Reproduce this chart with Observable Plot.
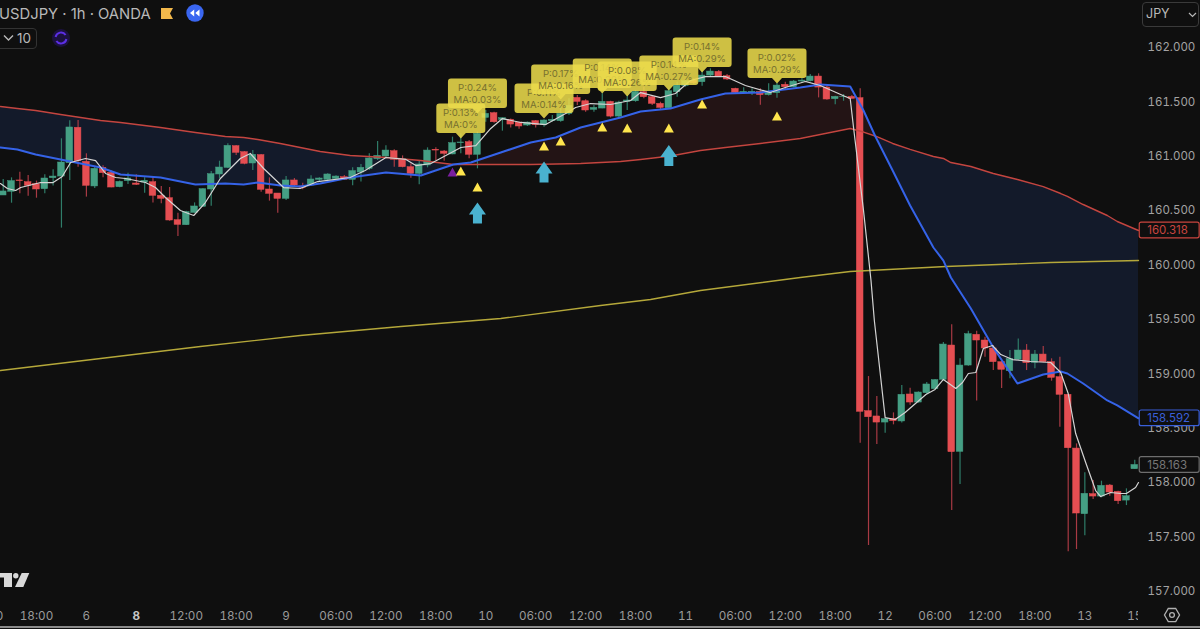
<!DOCTYPE html>
<html>
<head>
<meta charset="utf-8">
<script src="https://cdn.jsdelivr.net/npm/d3@7"></script>
<script src="https://cdn.jsdelivr.net/npm/@observablehq/plot@0.6"></script>
<style>
html,body{margin:0;padding:0;background:#0f0f0f;width:1200px;height:629px;overflow:hidden;font-family:Inter,"Liberation Sans",sans-serif}
#wrap{position:relative;width:1200px;height:629px;overflow:hidden}
.ab{position:absolute}
</style>
</head>
<body>
<div id="wrap"></div>
<script>
// ---- candles (bar 0..136) ----
const opens=[160.640,160.674,160.778,160.762,160.744,160.698,160.799,160.814,160.937,161.262,160.949,160.723,160.894,160.848,160.716,160.772,160.750,160.759,160.762,160.637,160.615,160.413,160.367,160.480,160.536,160.695,160.833,160.894,161.093,161.038,160.934,161.011,160.695,160.658,160.609,160.778,
160.723,160.732,160.784,160.784,160.793,160.808,160.784,160.851,160.885,160.974,160.998,161.047,160.968,160.900,160.839,160.916,161.060,161.044,161.017,161.121,161.130,161.014,
161.353,161.396,161.335,161.335,161.310,161.283,161.323,161.286,161.323,161.323,161.390,161.537,161.506,161.427,161.439,161.500,161.365,161.500,161.506,161.589,161.543,161.482,161.442,161.589,
161.647,161.696,161.681,161.742,161.776,161.736,161.620,161.583,161.583,161.592,161.562,161.580,161.657,161.635,161.687,161.690,161.733,161.632,161.525,161.543,161.546,161.534,
158.658,158.609,158.553,158.587,158.563,158.811,158.737,158.823,158.860,158.946,159.261,158.284,159.077,159.359,159.307,159.234,159.108,159.025,159.132,159.215,159.102,159.178,159.108,158.970,158.808,158.314,157.711,157.895,157.873,157.974,157.916,157.836,158.124];
const closes=[160.677,160.772,160.772,160.729,160.695,160.796,160.814,160.943,161.265,160.955,160.729,160.885,160.845,160.713,160.765,160.796,160.738,160.775,160.637,160.609,160.410,160.370,160.487,160.539,160.698,160.836,160.897,161.096,161.032,160.931,161.014,160.692,160.655,160.609,160.778,160.732,
160.710,160.787,160.796,160.833,160.814,160.784,160.864,160.894,160.980,161.004,161.053,160.968,160.900,160.839,160.925,161.053,161.053,161.023,161.121,161.127,161.014,161.207,
161.390,161.313,161.350,161.292,161.274,161.310,161.286,161.329,161.335,161.390,161.464,161.500,161.421,161.445,161.500,161.365,161.494,161.513,161.592,161.543,161.482,161.445,161.598,161.650,
161.690,161.672,161.742,161.779,161.733,161.706,161.583,161.592,161.592,161.562,161.586,161.650,161.635,161.687,161.696,161.733,161.632,161.522,161.546,161.546,161.528,158.652,
158.602,158.553,158.584,158.566,158.808,158.737,158.829,158.903,158.943,159.270,158.281,159.077,159.365,159.307,159.234,159.108,159.038,159.136,159.215,159.099,159.178,159.108,158.964,158.808,158.317,157.717,157.898,157.873,157.971,157.910,157.830,157.876,158.163];
const highs=[160.787,160.802,160.854,160.824,160.772,160.830,160.876,161.161,161.326,161.329,161.023,160.906,160.913,160.864,160.772,160.845,160.830,160.802,160.808,160.723,160.713,160.477,160.496,160.572,160.701,160.860,160.955,161.115,161.099,161.044,161.053,161.017,160.802,160.658,160.814,160.796,
160.753,160.821,160.802,160.839,160.821,160.824,160.894,160.925,161.023,161.136,161.096,161.060,161.004,160.931,160.962,161.078,161.078,161.053,161.176,161.207,161.145,161.222,
161.421,161.405,161.353,161.344,161.313,161.316,161.329,161.335,161.375,161.497,161.528,161.559,161.519,161.467,161.574,161.506,161.506,161.559,161.604,161.635,161.559,161.497,161.620,161.681,
161.712,161.712,161.788,161.804,161.788,161.752,161.626,161.629,161.620,161.620,161.666,161.672,161.681,161.696,161.718,161.752,161.758,161.641,161.552,161.568,161.559,161.620,
158.976,158.792,158.596,158.642,158.894,158.869,158.835,158.921,158.949,159.289,159.451,159.139,159.393,159.393,159.338,159.258,159.117,159.215,159.322,159.270,159.215,159.252,159.139,159.154,158.811,158.357,158.091,158.020,158.014,157.983,157.922,157.944,158.207];
const lows=[160.640,160.569,160.655,160.634,160.615,160.655,160.726,160.340,160.778,160.900,160.625,160.704,160.802,160.710,160.710,160.741,160.732,160.661,160.572,160.563,160.404,160.263,160.364,160.477,160.533,160.542,160.793,160.888,161.008,160.922,160.870,160.670,160.588,160.477,160.594,160.716,
160.692,160.723,160.762,160.778,160.784,160.778,160.729,160.765,160.870,160.962,160.977,160.900,160.894,160.799,160.738,160.894,160.962,160.955,161.014,161.023,160.977,160.885,
161.313,161.304,161.231,161.261,161.249,161.274,161.261,161.267,161.316,161.313,161.375,161.467,161.405,161.405,161.436,161.353,161.353,161.421,161.497,161.528,161.467,161.421,161.433,161.543,
161.635,161.660,161.644,161.733,161.727,161.696,161.577,161.568,161.559,161.470,161.555,161.534,161.604,161.629,161.681,161.684,161.537,161.516,161.473,161.506,161.528,158.363,
157.423,158.351,158.455,158.532,158.550,158.713,158.731,158.811,158.854,158.939,157.745,157.984,159.071,158.750,159.154,159.031,158.866,158.955,159.123,159.031,159.047,159.102,158.933,158.510,157.365,157.386,157.512,157.846,157.861,157.876,157.800,157.790,158.124];

// ---- moving averages (blue and red share their bars, so the cloud can fill between them) ----
const maBars=[-0.33,1.7,3.9,6.9,11.7,14.1,18.9,23.1,26.7,28.9,30.6,33.3,35.7,38.1,41.7,46,50.2,54.1,56.2,59.8,63.4,66.4,69.4,74.2,76.6,80.2,83.8,86.8,91,95.8,98.2,101.8,103.4,104.8,106.9,109,111.8,113,113.9,116.3,119,121.9,125,127.1,127.9,129.8,132.7,133.9,136.45];
const blueMA=[161.081,161.063,161.017,160.971,160.897,160.833,160.805,160.741,160.750,160.741,160.759,160.732,160.722,160.750,160.805,160.851,160.824,160.925,160.943,161.035,161.127,161.173,161.265,161.357,161.412,161.439,161.522,161.577,161.586,161.632,161.660,161.642,161.421,161.187,160.870,160.548,160.162,160.042,159.886,159.601,159.243,158.912,158.995,159.022,159.004,158.912,158.756,158.710,158.592];
const redMA=[161.458,161.439,161.421,161.384,161.329,161.311,161.265,161.219,161.182,161.173,161.154,161.118,161.081,161.044,161.007,160.989,160.961,160.925,160.925,160.925,160.925,160.929,160.934,160.952,160.971,161.003,161.053,161.081,161.118,161.164,161.200,161.256,161.223,161.187,161.118,161.063,160.998,160.980,160.943,160.906,160.842,160.787,160.722,160.658,160.631,160.557,160.456,160.401,160.318];
const crossA=54.1, crossB=104.8;

const yellowBars=[-0.33,11.7,23.7,35.7,47.8,59.8,71.8,77.8,83.8,95.8,101.8,113.3,125.9,136.45];
const yellowMA=[159.031,159.142,159.252,159.353,159.436,159.509,159.629,159.684,159.767,159.886,159.941,159.987,160.024,160.042];

const whiteBars=[-0.33,0.5,1.5,2.1,4.5,6,7.1,8.1,9.9,11.1,12.3,13.5,14.7,17.1,18.3,19.5,21.3,22.9,24.3,26.1,28.5,29.7,31.3,33.7,35.7,37.8,41.7,43.5,46,48.4,49.6,51.4,53.2,55,56.8,58.6,60,62.2,65.2,67.6,68.8,70.6,73,75.4,76.6,79,80.8,82.6,84.4,86.8,89.2,92.2,94,96.4,98.2,101.2,101.8,102.2,103.4,104.3,104.7,106,107.2,108.4,110.9,112,113,114.5,115.3,116,116.9,117.8,118.9,119.9,121.3,123.5,125.9,127.1,128,128.9,130.1,131.3,131.9,133.1,134.3,135,136.1,136.45];
const whiteMA=[160.750,160.704,160.686,160.713,160.759,160.759,160.814,160.943,160.980,160.961,160.842,160.805,160.796,160.759,160.713,160.621,160.502,160.456,160.575,160.796,160.980,161.026,160.888,160.713,160.704,160.768,160.805,160.870,160.989,160.971,160.915,160.934,161.007,161.081,161.099,161.256,161.347,161.311,161.292,161.393,161.449,161.485,161.476,161.513,161.586,161.540,161.577,161.697,161.733,161.733,161.651,161.586,161.632,161.688,161.651,161.550,161.531,161.265,160.502,159.859,159.491,158.599,158.581,158.645,158.811,158.857,158.949,158.866,158.921,159.004,159.013,159.234,159.261,159.178,159.132,159.114,159.105,159.013,158.820,158.452,158.186,157.928,157.873,157.910,157.901,157.901,157.956,158.002];

// ---- signals ----
const triBars=[55,57,65,67,72,75,80,84,93];
const triPrices=[160.860,160.713,161.090,161.136,161.265,161.256,161.256,161.476,161.366];
const purpleBars=[54];
const purplePrices=[160.851];
const arrowBars=[57,65,80];
const arrowPrices=[160.479,160.856,161.007];

// ---- callouts ----
const tagBars=[55,57,65,67,72,75,80,84,93];
const tagTips=[161.164,161.393,161.347,161.522,161.577,161.550,161.605,161.770,161.669];
const tagP=["0.13","0.24","0.11","0.17","0.14","0.08","0.14","0.14","0.02"];
const tagMA=["0","0.03","0.14","0.16","0.20","0.26","0.27","0.29","0.29"];

// ---- axes ----
const yTicks=[157,157.5,158,158.5,159,159.5,160,160.5,161,161.5,162];
const xTickBars=[-2,4,10,22,28,34,40,46,52,58,64,70,76,82,88,94,100,106,112,118,124,130,136];
const xTickLabels=["12:00","18:00","6","12:00","18:00","9","06:00","12:00","18:00","10","06:00","12:00","18:00","11","06:00","12:00","18:00","12","06:00","12:00","18:00","13","15"];
const boldTickBars=[16];
const boldTickLabels=["8"];

const endValues=[160.318,158.592,158.163];
const endColors=["#c9453f","#3a5fd9","#6e6e6e"];
const endTextColors=["#c9453f","#3a5fd9","#777777"];

const candles=opens.map((o,i)=>({i,open:o,close:closes[i],high:highs[i],low:lows[i]}));
const up=candles.filter(d=>d.close>=d.open), down=candles.filter(d=>d.close<d.open);
const cloud=maBars.map((k,i)=>({k,blue:blueMA[i],red:redMA[i]}));
const zip=(xs,ys)=>xs.map((k,i)=>({k,v:ys[i]}));

const poly=pts=>({draw(c){pts.forEach((p,i)=>i?c.lineTo(p[0],p[1]):c.moveTo(p[0],p[1]));c.closePath();}});
const triSym=poly([[0,-5],[5,4],[-5,4]]);
const arrowSym=poly([[0,-10.5],[8.5,1.5],[4.5,1.5],[4.5,10.5],[-4.5,10.5],[-4.5,1.5],[-8.5,1.5]]);
const tagSym=w=>({draw(c){const r=3,b=-5.5,t=-35;
  c.moveTo(0,0);c.lineTo(5,b);c.lineTo(w-r,b);c.arcTo(w,b,w,b-r,r);c.lineTo(w,t+r);c.arcTo(w,t,w-r,t,r);
  c.lineTo(-w+r,t);c.arcTo(-w,t,-w,t+r,r);c.lineTo(-w,b-r);c.arcTo(-w,b,-w+r,b,r);c.lineTo(-5,b);c.closePath();}});

const GREEN="#459f84",RED="#e54e52",GREENW="#2f7d69",REDW="#a83a44",BARW=0.4;
const tagMarks=tagBars.flatMap((k,i)=>{
  const row=[{k,v:tagTips[i],t:`P:${tagP[i]}%\nMA:${tagMA[i]}%`}];
  return [
    Plot.dot(row,{x:"k",y:"v",symbol:tagSym(tagMA[i].length>1?29.5:24.5),fill:"#ebdb4c",fillOpacity:0.87,r:3}),
    Plot.text(row,{x:"k",y:"v",text:"t",dy:-20,fill:"#77702f",fontSize:9.6,lineHeight:1.22})
  ];
});

const chart=Plot.plot({
  width:1200,height:629,marginLeft:0,marginRight:62,marginTop:0,marginBottom:26,
  style:{background:"#0f0f0f",fontFamily:"Inter,'Liberation Sans',sans-serif",overflow:"hidden"},
  x:{domain:[-0.325,136.45]},
  y:{domain:[156.89,162.432]},
  marks:[
    Plot.areaY(cloud.filter(d=>d.k<=crossA),{x:"k",y1:"blue",y2:"red",fill:"#131a2a"}),
    Plot.areaY(cloud.filter(d=>d.k>=crossA&&d.k<=crossB),{x:"k",y1:"blue",y2:"red",fill:"#231415"}),
    Plot.areaY(cloud.filter(d=>d.k>=crossB),{x:"k",y1:"blue",y2:"red",fill:"#131a2a"}),
    Plot.ruleX(up,{x:"i",y1:"low",y2:"high",stroke:GREENW,strokeWidth:1.2}),
    Plot.ruleX(down,{x:"i",y1:"low",y2:"high",stroke:REDW,strokeWidth:1.2}),
    Plot.rect(up,{x1:d=>d.i-BARW,x2:d=>d.i+BARW,y1:"open",y2:"close",fill:GREEN,stroke:GREEN,strokeWidth:0.5}),
    Plot.rect(down,{x1:d=>d.i-BARW,x2:d=>d.i+BARW,y1:"open",y2:"close",fill:RED,stroke:RED,strokeWidth:0.5}),
    Plot.line(zip(yellowBars,yellowMA),{x:"k",y:"v",stroke:"#b5a83a",strokeWidth:1.4}),
    Plot.line(cloud,{x:"k",y:"red",stroke:"#c4453f",strokeWidth:1.4}),
    Plot.line(cloud,{x:"k",y:"blue",stroke:"#3563e8",strokeWidth:2}),
    Plot.line(zip(whiteBars,whiteMA),{x:"k",y:"v",stroke:"#d4d4d4",strokeWidth:1.2}),
    Plot.dot(zip(arrowBars,arrowPrices),{x:"k",y:"v",symbol:arrowSym,fill:"#4ab2cf",r:3}),
    Plot.dot(zip(purpleBars,purplePrices),{x:"k",y:"v",symbol:triSym,fill:"#7a1fa0",r:3}),
    Plot.dot(zip(triBars,triPrices),{x:"k",y:"v",symbol:triSym,fill:"#ffe54d",r:3}),
    ...tagMarks,
    Plot.axisY(yTicks,{anchor:"right",tickSize:0,tickPadding:9,label:null,tickFormat:d3.format(".3f"),fill:"#a3a3a3",fontSize:11.5}),
    Plot.axisX(xTickBars,{anchor:"bottom",tickSize:0,tickPadding:8,label:null,tickFormat:k=>xTickLabels[xTickBars.indexOf(k)],fill:"#9a9a9a",fontSize:11.7}),
    Plot.axisX(boldTickBars,{anchor:"bottom",tickSize:0,tickPadding:8,label:null,tickFormat:k=>boldTickLabels[boldTickBars.indexOf(k)],fill:"#c4c4c4",fontSize:11.7,fontWeight:"bold"}),
    Plot.rect(endValues.map((v,i)=>({v,i})),{x1:()=>136.6,x2:()=>143.8,y1:d=>d.v-0.072,y2:d=>d.v+0.072,fill:"#0f0f0f",stroke:d=>endColors[d.i],strokeWidth:1.2,rx:2}),
    Plot.text(endValues.map((v,i)=>({v,i})),{x:()=>137.5,y:"v",text:d=>d3.format(".3f")(d.v),textAnchor:"start",fill:d=>endTextColors[d.i],fontSize:11.5})
  ],
  color:{type:"identity"}
});
document.getElementById("wrap").appendChild(chart);

// chrome around the chart
document.getElementById("wrap").insertAdjacentHTML("beforeend",`
<div class="ab" style="left:-1px;top:4px;color:#b9b9b9;font-size:14.8px;line-height:20px;white-space:nowrap">USDJPY · 1h · OANDA</div>
<svg class="ab" style="left:158px;top:4px" width="50" height="20">
  <path d="M3 4h12l-3 5.5 3 5.5H3z" fill="#f2b84b"/>
  <circle cx="37" cy="9" r="8.7" fill="#3a66f0"/>
  <path d="M36.2 5.5v7l-4.2-3.5zM41.5 5.5v7l-4.2-3.5z" fill="#fff"/>
</svg>
<div class="ab" style="left:-10px;top:28px;width:45px;height:19px;border:1px solid #333;border-radius:4px"></div>
<svg class="ab" style="left:3px;top:34px" width="12" height="8"><path d="M1 1.5l4.5 4.5 4.5-4.5" stroke="#b9b9b9" stroke-width="1.4" fill="none"/></svg>
<div class="ab" style="left:17px;top:28px;color:#b9b9b9;font-size:13.5px;line-height:20px">10</div>
<svg class="ab" style="left:51px;top:28px" width="20" height="20">
  <circle cx="10" cy="10" r="9" fill="#1c1140"/>
  <path d="M4.6 9a5.5 5.5 0 0 1 10-2M15.4 11a5.5 5.5 0 0 1-10 2" stroke="#5c2fe6" stroke-width="2" fill="none"/>
</svg>
<svg class="ab" style="left:0;top:570px" width="32" height="20">
  <path d="M0 3h12v14H4V7.5H0z" fill="#d8d8d8"/><circle cx="15.8" cy="5.7" r="2.7" fill="#d8d8d8"/><path d="M21.7 3h7.6L23.3 17H15z" fill="#d8d8d8"/>
</svg>
<div class="ab" style="left:1142px;top:2px;width:55px;height:23px;border:1px solid #3a3a3a;border-radius:4px"></div>
<div class="ab" style="left:1146px;top:4px;color:#b9b9b9;font-size:12.5px;line-height:20px">JPY</div>
<svg class="ab" style="left:1188px;top:12px" width="9" height="6"><path d="M1 1l3.5 3.5L8 1" stroke="#b9b9b9" stroke-width="1.2" fill="none"/></svg>
<div class="ab" style="left:1138px;top:604px;width:62px;height:22px;background:#0f0f0f"></div>
<svg class="ab" style="left:1163px;top:606px" width="18" height="18">
  <path d="M9 1.5l6.5 3.7v7.6L9 16.5l-6.5-3.7V5.2z M9 1.5" transform="rotate(30 9 9)" stroke="#b0b0b0" stroke-width="1.3" fill="none"/><circle cx="9" cy="9" r="2.4" stroke="#b0b0b0" stroke-width="1.3" fill="none"/>
</svg>
<div class="ab" style="left:0;top:626px;width:1200px;height:2px;background:#8a8a8a"></div>
`);
</script>
</body>
</html>
